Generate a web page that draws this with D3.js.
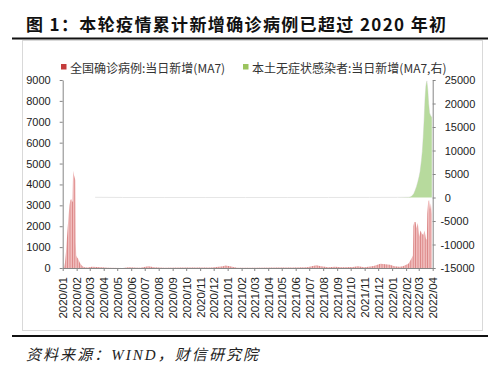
<!DOCTYPE html>
<html><head><meta charset="utf-8">
<script src="https://cdn.jsdelivr.net/npm/d3@7"></script>
<style>body{margin:0;background:#fff}</style>
</head><body>
<svg id="c" width="500" height="369"></svg>
<script>
// ---------------- data ----------------
const titleText = "图 1：本轮疫情累计新增确诊病例已超过 2020 年初";
const sourceText = "资料来源：WIND，财信研究院";
const legendLabels = ["全国确诊病例:当日新增(MA7)", "本土无症状感染者:当日新增(MA7,右)"];

const xTickLabels = ["2020/01","2020/02","2020/03","2020/04","2020/05","2020/06","2020/07","2020/08","2020/09","2020/10","2020/11","2020/12",
  "2021/01","2021/02","2021/03","2021/04","2021/05","2021/06","2021/07","2021/08","2021/09","2021/10","2021/11","2021/12",
  "2022/01","2022/02","2022/03","2022/04"];
const leftTicks = [0,1000,2000,3000,4000,5000,6000,7000,8000,9000];
const rightTicks = [-15000,-10000,-5000,0,5000,10000,15000,20000,25000];

// 全国确诊病例:当日新增(MA7) — left axis
const redDates = ["2020-01-20","2020-01-23","2020-01-25","2020-01-27","2020-01-29","2020-01-31","2020-02-02","2020-02-04","2020-02-06","2020-02-08","2020-02-10","2020-02-11",
  "2020-02-12","2020-02-14","2020-02-16","2020-02-17","2020-02-18","2020-02-19","2020-02-21","2020-02-23","2020-02-25","2020-02-27","2020-03-01","2020-03-04","2020-03-08","2020-03-15",
  "2020-03-25","2020-04-05","2020-04-15","2020-05-01","2020-06-01","2020-06-15","2020-06-25","2020-07-10","2020-07-28","2020-08-10","2020-09-01","2020-10-15","2020-11-15","2020-12-15",
  "2021-01-10","2021-01-15","2021-01-25","2021-02-10","2021-03-15","2021-05-15","2021-06-15","2021-07-15","2021-08-05","2021-08-15","2021-09-01","2021-09-15","2021-10-01","2021-10-25",
  "2021-11-05","2021-11-20","2021-12-10","2021-12-25","2022-01-05","2022-01-15","2022-01-25","2022-02-05","2022-02-13","2022-02-20","2022-02-25","2022-03-01","2022-03-05","2022-03-07",
  "2022-03-08","2022-03-10","2022-03-13","2022-03-15","2022-03-18","2022-03-21","2022-03-24","2022-03-27","2022-03-30","2022-04-02","2022-04-05","2022-04-07","2022-04-08","2022-04-10",
  "2022-04-12","2022-04-14","2022-04-16","2022-04-18"];
const redValues = [0,50,250,700,1300,1900,2500,3000,3250,3300,3200,3150,
  4650,4450,4300,4200,1200,600,500,450,350,250,150,80,40,25,
  60,50,40,10,5,30,20,15,80,40,15,20,20,20,
  80,120,80,15,10,20,25,40,130,80,30,60,30,50,
  80,40,100,200,180,150,80,60,80,150,200,350,500,600,
  2000,2200,2200,1900,2150,1500,1800,1650,1580,1800,1400,1350,2600,3200,
  3250,2800,3100,2600];

// 本土无症状感染者:当日新增(MA7,右) — right axis
const greenDates = ["2020-04-01","2020-06-01","2020-09-01","2020-12-01","2021-03-01","2021-06-01","2021-09-01","2021-12-01","2022-02-01","2022-02-25",
  "2022-03-01","2022-03-05","2022-03-09","2022-03-12","2022-03-15","2022-03-18","2022-03-21","2022-03-23","2022-03-26","2022-03-28","2022-03-30",
  "2022-04-01","2022-04-03","2022-04-05","2022-04-07","2022-04-09","2022-04-11","2022-04-13","2022-04-15","2022-04-17","2022-04-18"];
const greenValues = [40,5,5,5,5,5,5,10,20,50,
  100,300,800,1500,2300,3300,4500,5500,7800,9800,12800,
  16500,21000,23800,24800,23000,20000,18000,17500,17200,17000];

// ---------------- drawing ----------------
const parse = d3.timeParse("%Y-%m-%d");
const red = redDates.map((d,i)=>({date:parse(d), v:redValues[i]}));
const green = greenDates.map((d,i)=>({date:parse(d), v:greenValues[i]}));
const tickDates = xTickLabels.map(l => parse(l.replace("/","-") + "-20"));

const svg = d3.select("#c");
const L = 62.7, R = 432.7, T = 80, B = 268;

const x = d3.scaleTime().domain([parse("2020-01-20"), parse("2022-04-20")]).range([L, R]);
const yL = d3.scaleLinear().domain([0, 9000]).range([B, T]);
const yR = d3.scaleLinear().domain([-15000, 25000]).range([B, T]);

// title & rules
svg.append("text").attr("x", 26).attr("y", 23).attr("dominant-baseline","central")
  .attr("font-family","'Noto Sans CJK SC','Liberation Serif',serif").attr("font-weight","bold")
  .attr("font-size",17).attr("fill","#111")
  .attr("textLength", 420).attr("lengthAdjust","spacing").text(titleText);
svg.append("line").attr("x1",12).attr("x2",488).attr("y1",38.5).attr("y2",38.5).attr("stroke","#111").attr("stroke-width",2);
svg.append("rect").attr("x",22.5).attr("y",40.5).attr("width",460).attr("height",290).attr("fill","none").attr("stroke","#d9d9d9");
svg.append("line").attr("x1",12).attr("x2",488).attr("y1",336).attr("y2",336).attr("stroke","#111").attr("stroke-width",2);
svg.append("text").attr("x", 26).attr("y", 355).attr("dominant-baseline","central")
  .attr("font-family","'Liberation Serif','Noto Sans CJK SC',serif").attr("font-style","italic")
  .attr("font-size",15).attr("fill","#222")
  .attr("textLength", 232).attr("lengthAdjust","spacing").text(sourceText);

// stripes pattern for the dense red columns
const defs = svg.append("defs");
const pat = defs.append("pattern").attr("id","rs").attr("width",2.4).attr("height",4).attr("patternUnits","userSpaceOnUse");
pat.append("rect").attr("width",2.4).attr("height",4).attr("fill","#f0bcbc");
pat.append("rect").attr("width",0.8).attr("height",4).attr("fill","#d98282");

// faint zero line of the green series
svg.append("path").datum(green)
  .attr("d", d3.line().x(d=>x(d.date)).y(d=>yR(d.v)))
  .attr("fill","none").attr("stroke","#e6e6e6").attr("stroke-width",1);

// green area
svg.append("path").datum(green.filter(d=>d.date >= parse("2022-02-01")))
  .attr("d", d3.area().x(d=>x(d.date)).y0(yR(0)).y1(d=>yR(d.v)))
  .attr("fill","#b7da9d");

// red area
svg.append("path").datum(red)
  .attr("d", d3.area().x(d=>x(d.date)).y0(yL(0)).y1(d=>yL(d.v)))
  .attr("fill","url(#rs)");

// axes
const axisColor = "#868686";
function styleAxis(g, fs){
  g.select(".domain").attr("stroke", axisColor);
  g.selectAll(".tick line").attr("stroke", axisColor);
  g.selectAll(".tick text").attr("fill","#222").attr("font-family","'Liberation Sans',Arial,sans-serif").attr("font-size",fs);
}
const gL = svg.append("g").attr("transform",`translate(${L},0)`)
  .call(d3.axisLeft(yL).tickValues(leftTicks).tickSize(3).tickSizeOuter(0).tickPadding(9).tickFormat(d=>String(d)));
styleAxis(gL, 11);

const gR = svg.append("g").attr("transform",`translate(${R},0)`)
  .call(d3.axisRight(yR).tickValues(rightTicks).tickSize(3).tickSizeOuter(0).tickPadding(9).tickFormat(d=>String(d)));
styleAxis(gR, 11);
gR.selectAll(".tick text").attr("x", d => d < 0 ? 12 - 4.3 : 12);

const gX = svg.append("g").attr("transform",`translate(0,${B})`)
  .call(d3.axisBottom(x).tickValues(tickDates).tickSize(3).tickSizeOuter(0).tickFormat((d,i)=>xTickLabels[i]));
styleAxis(gX, 11.5);
gX.selectAll(".tick text").attr("transform","rotate(-90)").attr("text-anchor","end")
  .attr("x",-9).attr("y",0).attr("dy","0.35em");

// legend
const legColors = ["#c43c3c", "#9bc45e"];
const legX = [61, 243];
legendLabels.forEach((lab,i)=>{
  svg.append("rect").attr("x",legX[i]).attr("y",64).attr("width",5.5).attr("height",5.5).attr("fill",legColors[i]);
  svg.append("text").attr("x",legX[i]+9).attr("y",67).attr("dominant-baseline","central")
    .attr("font-family","'Noto Sans CJK SC',sans-serif").attr("font-size",12).attr("fill","#333").text(lab);
});
</script>
</body></html>
